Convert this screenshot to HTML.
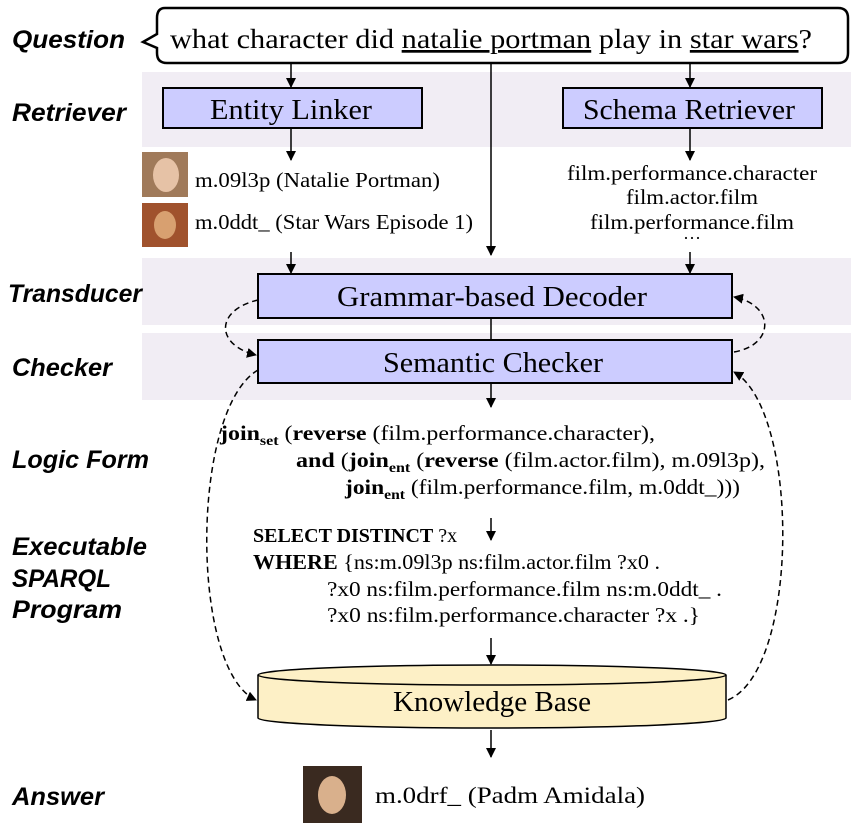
<!DOCTYPE html>
<html><head><meta charset="utf-8"><style>
html,body{margin:0;padding:0;background:#fff;}
svg{display:block;}
.lab{font-family:"Liberation Sans",sans-serif;font-weight:bold;font-style:italic;font-size:25px;fill:#000;}
.s{font-family:"Liberation Serif",serif;fill:#000;}
</style></head><body>
<svg width="851" height="834" viewBox="0 0 851 834" xmlns="http://www.w3.org/2000/svg">
<defs>
<marker id="a" markerWidth="10" markerHeight="10" refX="9" refY="5" orient="auto" markerUnits="userSpaceOnUse"><path d="M0,0 L10,5 L0,10 Z" fill="#000"/></marker>
</defs>
<rect x="142" y="72" width="709" height="75" fill="#f1edf4"/>
<rect x="142" y="258" width="709" height="67" fill="#f1edf4"/>
<rect x="142" y="333" width="709" height="67" fill="#f1edf4"/>
<text class="lab" x="12" y="48" textLength="113" lengthAdjust="spacingAndGlyphs">Question</text>
<text class="lab" x="12" y="121" textLength="114" lengthAdjust="spacingAndGlyphs">Retriever</text>
<text class="lab" x="8" y="302" textLength="134" lengthAdjust="spacingAndGlyphs">Transducer</text>
<text class="lab" x="12" y="376" textLength="100" lengthAdjust="spacingAndGlyphs">Checker</text>
<text class="lab" x="12" y="468" textLength="137" lengthAdjust="spacingAndGlyphs">Logic Form</text>
<text class="lab" x="12" y="555" textLength="135" lengthAdjust="spacingAndGlyphs">Executable</text>
<text class="lab" x="12" y="587" textLength="99" lengthAdjust="spacingAndGlyphs">SPARQL</text>
<text class="lab" x="12" y="618" textLength="110" lengthAdjust="spacingAndGlyphs">Program</text>
<text class="lab" x="12" y="805" textLength="92" lengthAdjust="spacingAndGlyphs">Answer</text>
<path d="M165,8 H838 Q848,8 848,18 V53 Q848,63 838,63 H167 Q157,63 157,53 V48 L143,42 L157,34 V18 Q157,8 165,8 Z" fill="#fff" stroke="#000" stroke-width="2.5"/>
<text class="s" x="170" y="48" font-size="27" textLength="642" lengthAdjust="spacingAndGlyphs">what character did <tspan text-decoration="underline">natalie portman</tspan> play in <tspan text-decoration="underline">star wars</tspan>?</text>
<g stroke="#000" stroke-width="1.5" marker-end="url(#a)">
<line x1="291" y1="64" x2="291" y2="87"/>
<line x1="690" y1="64" x2="690" y2="87"/>
<line x1="491" y1="64" x2="491" y2="255"/>
<line x1="291" y1="128" x2="291" y2="160"/>
<line x1="690" y1="128" x2="690" y2="160"/>
<line x1="291" y1="252" x2="291" y2="273"/>
<line x1="690" y1="252" x2="690" y2="273"/>
<line x1="491" y1="383" x2="491" y2="407"/>
<line x1="491" y1="518" x2="491" y2="540"/>
<line x1="491" y1="638" x2="491" y2="664"/>
<line x1="491" y1="730" x2="491" y2="757"/>
</g>
<line x1="491" y1="318" x2="491" y2="340" stroke="#000" stroke-width="1.5"/>
<rect x="163" y="88" width="259" height="40" fill="#ccccff" stroke="#000" stroke-width="2"/>
<text class="s" x="291" y="119" font-size="28" text-anchor="middle" textLength="162" lengthAdjust="spacingAndGlyphs">Entity Linker</text>
<rect x="563" y="88" width="259" height="40" fill="#ccccff" stroke="#000" stroke-width="2"/>
<text class="s" x="689" y="119" font-size="28" text-anchor="middle" textLength="212" lengthAdjust="spacingAndGlyphs">Schema Retriever</text>
<rect x="142" y="152" width="46" height="45" fill="#a07a5a"/>
<ellipse cx="166" cy="175" rx="13" ry="17" fill="#e6c2a6"/>
<rect x="142" y="203" width="46" height="44" fill="#a0522d"/>
<ellipse cx="165" cy="225" rx="11" ry="14" fill="#d8a070"/>
<text class="s" x="195" y="187" font-size="21" textLength="245" lengthAdjust="spacingAndGlyphs">m.09l3p (Natalie Portman)</text>
<text class="s" x="195" y="229" font-size="21" textLength="278" lengthAdjust="spacingAndGlyphs">m.0ddt_ (Star Wars Episode 1)</text>
<text class="s" x="692" y="180" font-size="21" text-anchor="middle" textLength="250" lengthAdjust="spacingAndGlyphs">film.performance.character</text>
<text class="s" x="692" y="204" font-size="21" text-anchor="middle" textLength="132" lengthAdjust="spacingAndGlyphs">film.actor.film</text>
<text class="s" x="692" y="229" font-size="21" text-anchor="middle" textLength="204" lengthAdjust="spacingAndGlyphs">film.performance.film</text>
<text class="s" x="692" y="244" font-size="18" text-anchor="middle">···</text>
<rect x="258" y="274" width="474" height="44" fill="#ccccff" stroke="#000" stroke-width="2"/>
<text class="s" x="492" y="306" font-size="28" text-anchor="middle" textLength="310" lengthAdjust="spacingAndGlyphs">Grammar-based Decoder</text>
<rect x="258" y="340" width="474" height="43" fill="#ccccff" stroke="#000" stroke-width="2"/>
<text class="s" x="493" y="372" font-size="28" text-anchor="middle" textLength="220" lengthAdjust="spacingAndGlyphs">Semantic Checker</text>
<g fill="none" stroke="#000" stroke-width="1.5" stroke-dasharray="6,4" marker-end="url(#a)">
<path d="M258,300 C215,310 215,345 256,355"/>
<path d="M734,352 C775,345 775,305 734,297"/>
<path d="M258,370 C190,410 190,670 256,700"/>
<path d="M728,700 C800,670 800,410 734,372"/>
</g>
<g class="s" font-size="21">
<text x="220" y="440" textLength="435" lengthAdjust="spacingAndGlyphs"><tspan font-weight="bold">join</tspan><tspan font-weight="bold" font-size="14" dy="5">set</tspan><tspan dy="-5"> (</tspan><tspan font-weight="bold">reverse</tspan> (film.performance.character),</text>
<text x="296" y="467" textLength="469" lengthAdjust="spacingAndGlyphs"><tspan font-weight="bold">and</tspan> (<tspan font-weight="bold">join</tspan><tspan font-weight="bold" font-size="14" dy="5">ent</tspan><tspan dy="-5"> (</tspan><tspan font-weight="bold">reverse</tspan> (film.actor.film), m.09l3p),</text>
<text x="345" y="494" textLength="395" lengthAdjust="spacingAndGlyphs"><tspan font-weight="bold">join</tspan><tspan font-weight="bold" font-size="14" dy="5">ent</tspan><tspan dy="-5"> (film.performance.film, m.0ddt_)))</tspan></text>
<text x="253" y="542" font-size="20"><tspan font-weight="bold">SELECT DISTINCT</tspan>  ?x</text>
<text x="253" y="569" textLength="407" lengthAdjust="spacingAndGlyphs"><tspan font-weight="bold">WHERE</tspan> {ns:m.09l3p ns:film.actor.film ?x0 .</text>
<text x="327" y="596" textLength="395" lengthAdjust="spacingAndGlyphs">?x0 ns:film.performance.film ns:m.0ddt_ .</text>
<text x="327" y="622" textLength="373" lengthAdjust="spacingAndGlyphs">?x0 ns:film.performance.character ?x .}</text>
</g>
<path d="M258,675 V718 A234,10 0 0 0 726,718 V675" fill="#fdf0c6" stroke="#000" stroke-width="1.5"/>
<ellipse cx="492" cy="675" rx="234" ry="10" fill="#fdf0c6" stroke="#000" stroke-width="1.5"/>
<text class="s" x="492" y="711" font-size="28" text-anchor="middle" textLength="198" lengthAdjust="spacingAndGlyphs">Knowledge Base</text>
<rect x="303" y="766" width="59" height="57" fill="#3a2a20"/>
<ellipse cx="332" cy="795" rx="14" ry="19" fill="#d9b08c"/>
<text class="s" x="375" y="803" font-size="23" textLength="270" lengthAdjust="spacingAndGlyphs">m.0drf_ (Padm Amidala)</text>
</svg>
</body></html>
